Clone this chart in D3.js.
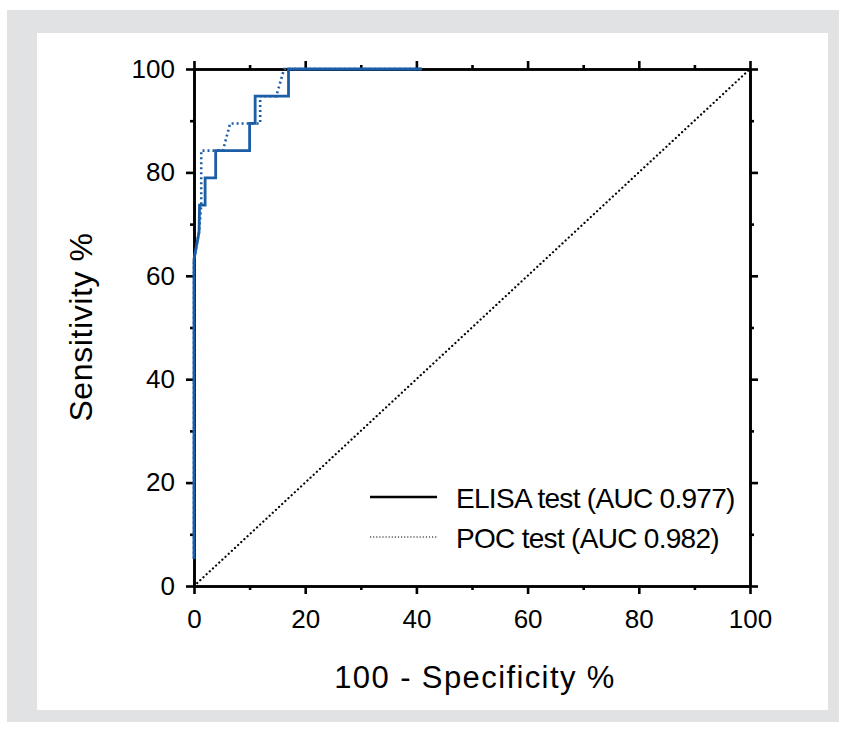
<!DOCTYPE html>
<html lang="en">
<head>
    <meta charset="utf-8">
    <title>ROC curves</title>
    <script src="https://d3js.org/d3.v7.min.js"></script>
    <style>
        body { margin: 0; background: #fff; }
        text { font-family: "Liberation Sans", Arial, sans-serif; }
    </style>
</head>
<body>
<script type="text/javascript">
    // ROC points: [100 - specificity %, sensitivity %]
    var elisaFpr  = [0, 0, 0.9, 1.0, 2.0, 2.0, 3.9, 3.9, 10.0, 10.0, 11.0, 11.0, 17.0, 17.0, 41.0];
    var elisaSens = [5.26, 63.16, 68.42, 73.68, 73.68, 78.95, 78.95, 84.21, 84.21, 89.47, 89.47, 94.74, 94.74, 100, 100];

    var pocFpr  = [0, 0, 0.9, 1.3, 1.3, 5.2, 6.5, 11.9, 11.9, 14.8, 16.2, 41.0];
    var pocSens = [5.26, 63.16, 68.42, 73.68, 84.21, 84.21, 89.47, 89.47, 94.74, 94.74, 100, 100];

    var refLine = [0, 100];
    var majorTicks = [0, 20, 40, 60, 80, 100];
    var minorTicks = [10, 30, 50, 70, 90];

    var legendLabels = ["ELISA test (AUC 0.977)", "POC test (AUC 0.982)"];

    var width = 845, height = 731;
    var blue = "#1b5ea7";

    var svg = d3.select("body")
            .append("svg")
            .attr("width", width)
            .attr("height", height);

    // grey frame with white panel
    svg.append("rect").attr("x", 7).attr("y", 10).attr("width", 832).attr("height", 712).attr("fill", "#e1e2e4");
    svg.append("rect").attr("x", 37).attr("y", 33).attr("width", 791).attr("height", 677).attr("fill", "#fff");

    var x = d3.scaleLinear().domain([0, 100]).range([194, 750]);
    var y = d3.scaleLinear().domain([0, 100]).range([586, 69]);

    //chance line
    svg.append("line")
        .attr("x1", x(refLine[0])).attr("y1", y(refLine[0]))
        .attr("x2", x(refLine[1])).attr("y2", y(refLine[1]))
        .attr("stroke", "#000")
        .attr("stroke-width", 2.2)
        .attr("stroke-linecap", "round")
        .attr("stroke-dasharray", "0.1 4.2");

    function axisStyle(g) {
        g.select(".domain").attr("stroke", "#000").attr("stroke-width", 2.6);
        g.selectAll(".tick line").attr("stroke", "#000").attr("stroke-width", 2.6);
        g.selectAll(".tick text").attr("fill", "#000")
            .style("font-size", "26px")
            .style("font-family", "'Liberation Sans', Arial, sans-serif");
    }

    function addAxis(gen, horizontal, tx, ty, pad) {
        var sc = horizontal ? x : y;
        svg.append("g").attr("transform", "translate(" + tx + "," + ty + ")")
            .call(gen(sc).tickValues(minorTicks).tickSize(4).tickSizeOuter(0).tickFormat(""))
            .call(axisStyle);
        var major = gen(sc).tickValues(majorTicks).tickSize(8).tickSizeOuter(0).tickPadding(pad || 0);
        if (!pad) major.tickFormat("");
        svg.append("g").attr("transform", "translate(" + tx + "," + ty + ")")
            .call(major)
            .call(axisStyle);
    }

    addAxis(d3.axisBottom, true, 0, y(0), 16);
    addAxis(d3.axisLeft, false, x(0), 0, 11);
    addAxis(d3.axisTop, true, 0, y(100), 0);
    addAxis(d3.axisRight, false, x(100), 0, 0);

    var line = d3.line()
        .x(function(d) { return x(d[0]); })
        .y(function(d) { return y(d[1]); });

    var pocData = pocFpr.map(function(v, i) { return [v, pocSens[i]]; });
    var elisaData = elisaFpr.map(function(v, i) { return [v, elisaSens[i]]; });

    svg.append("path")
        .datum(elisaData)
        .attr("d", line)
        .attr("fill", "none")
        .attr("stroke", blue)
        .attr("stroke-width", 2.8);

    svg.append("path")
        .datum(pocData)
        .attr("d", line)
        .attr("fill", "none")
        .attr("stroke", blue)
        .attr("stroke-width", 2.6)
        .attr("stroke-dasharray", "2 3");

    // axis titles
    svg.append("text")
        .attr("x", 475).attr("y", 688)
        .attr("text-anchor", "middle")
        .style("font-size", "31px")
        .style("letter-spacing", "1.4px")
        .text("100 - Specificity %");

    svg.append("text")
        .attr("transform", "translate(92,327) rotate(-90)")
        .attr("text-anchor", "middle")
        .style("font-size", "32px")
        .style("letter-spacing", "0.6px")
        .text("Sensitivity %");

    // legend
    var legend = svg.append("g");
    legend.append("line")
        .attr("x1", 370).attr("x2", 437).attr("y1", 497).attr("y2", 497)
        .attr("stroke", "#000").attr("stroke-width", 2.6);
    legend.append("line")
        .attr("x1", 370).attr("x2", 437).attr("y1", 537).attr("y2", 537)
        .attr("stroke", "#555").attr("stroke-width", 1.5)
        .attr("stroke-dasharray", "1.2 1.9");
    legend.selectAll("text.lab")
        .data(legendLabels)
        .enter()
        .append("text")
        .attr("class", "lab")
        .attr("x", 456)
        .attr("y", function(d, i) { return 508 + i * 40; })
        .style("font-size", "28px")
        .style("letter-spacing", "-0.7px")
        .text(function(d) { return d; });
</script>
</body>
</html>
